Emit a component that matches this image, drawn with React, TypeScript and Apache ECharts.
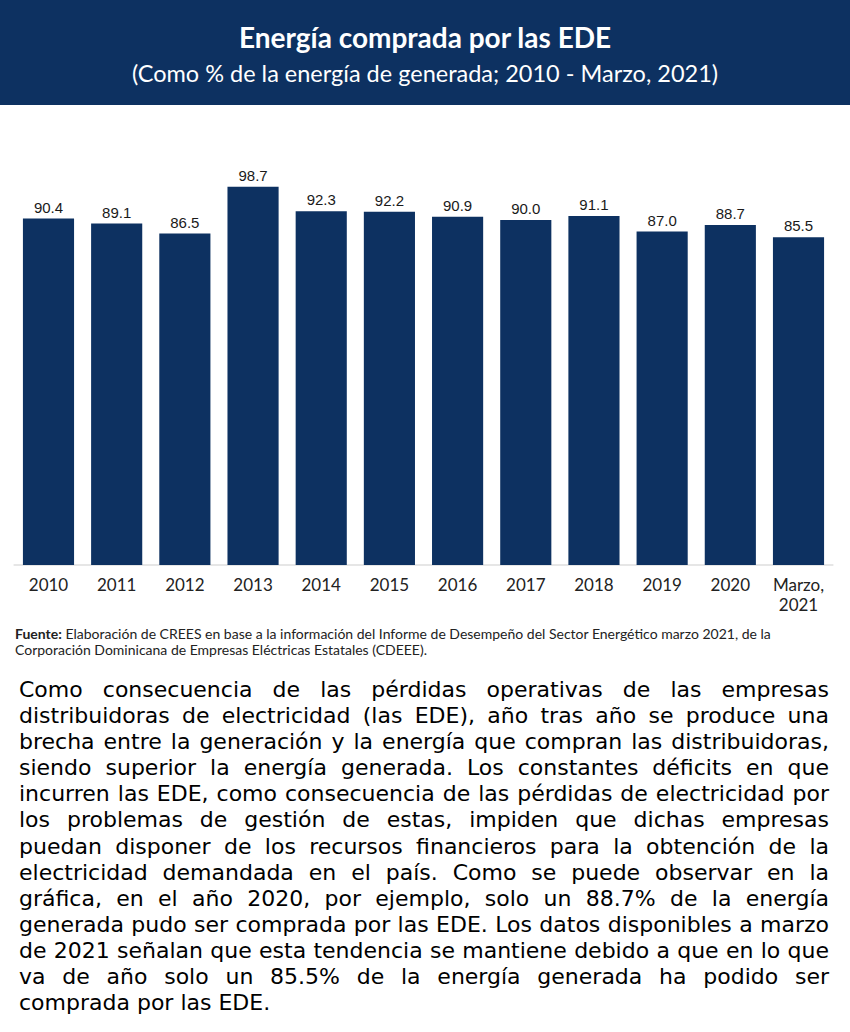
import React, { useEffect, useRef } from "react";
import * as echarts from "echarts";

const categories = ["2010", "2011", "2012", "2013", "2014", "2015", "2016", "2017", "2018", "2019", "2020", "Marzo,\n2021"];
const values = [90.4, 89.1, 86.5, 98.7, 92.3, 92.2, 90.9, 90.0, 91.1, 87.0, 88.7, 85.5];

const titleText = "Energía comprada por las EDE";
const subtitleText = "(Como % de la energía de generada; 2010 - Marzo, 2021)";
const sourceBold = "Fuente:";
const sourceLine1 = " Elaboración de CREES en base a la información del Informe de Desempeño del Sector Energético marzo 2021, de la";
const sourceLine2 = "Corporación Dominicana de Empresas Eléctricas Estatales (CDEEE).";

const paragraphLines = [
  "Como consecuencia de las pérdidas operativas de las empresas",
  "distribuidoras de electricidad (las EDE), año tras año se produce una",
  "brecha entre la generación y la energía que compran las distribuidoras,",
  "siendo superior la energía generada. Los constantes déficits en que",
  "incurren las EDE, como consecuencia de las pérdidas de electricidad por",
  "los problemas de gestión de estas, impiden que dichas empresas",
  "puedan disponer de los recursos financieros para la obtención de la",
  "electricidad demandada en el país. Como se puede observar en la",
  "gráfica, en el año 2020, por ejemplo, solo un 88.7% de la energía",
  "generada pudo ser comprada por las EDE. Los datos disponibles a marzo",
  "de 2021 señalan que esta tendencia se mantiene debido a que en lo que",
  "va de año solo un 85.5% de la energía generada ha podido ser",
  "comprada por las EDE.",
];

const NAVY = "#0d3161";

export default function App() {
  const ref = useRef<HTMLDivElement>(null);

  useEffect(() => {
    document.body.style.margin = "0";
    const chart = echarts.init(ref.current!, null, { renderer: "svg" });
    chart.setOption({
      animation: false,
      backgroundColor: "#ffffff",
      graphic: [
        { type: "rect", left: 0, top: 0, shape: { x: 0, y: 0, width: 850, height: 105 }, style: { fill: NAVY }, silent: true },
        {
          type: "text", x: 425, y: 37,
          style: { text: titleText, fill: "#ffffff", font: "bold 28px Lato", textAlign: "center", textVerticalAlign: "middle", align: "center", verticalAlign: "middle" },
        },
        {
          type: "text", x: 425, y: 73,
          style: { text: subtitleText, fill: "#ffffff", font: "23.5px Lato", textAlign: "center", textVerticalAlign: "middle", align: "center", verticalAlign: "middle" },
        },
        {
          type: "text", x: 15, y: 625,
          style: {
            text: "{b|" + sourceBold + "}{n|" + sourceLine1 + "}\n{n|" + sourceLine2 + "}",
            fill: "#222222",
            font: "14px Lato",
            lineHeight: 16,
            rich: {
              b: { fontFamily: "Lato", fontSize: 14, fontWeight: "bold", fill: "#222222", color: "#222222", lineHeight: 16 },
              n: { fontFamily: "Lato", fontSize: 14, fill: "#222222", color: "#222222", lineHeight: 16 },
            },
          },
        },
      ],
      grid: { left: 14.4, right: 17.4, top: 181.8, bottom: 105, containLabel: false },
      xAxis: {
        type: "category",
        data: categories,
        axisLine: { show: true, lineStyle: { color: "#e6e6e6", width: 2 } },
        axisTick: { show: false },
        axisLabel: { color: "#222222", fontFamily: "Lato", fontSize: 17, margin: 9, lineHeight: 20, interval: 0 },
      },
      yAxis: { type: "value", min: 0, max: 100, show: false, splitLine: { show: false } },
      series: [
        {
          type: "bar",
          data: values,
          barCategoryGap: "25%",
          itemStyle: { color: NAVY },
          label: {
            show: true,
            position: "top",
            distance: 4,
            color: "#1a1a1a",
            fontFamily: "Liberation Sans, Arial, sans-serif",
            fontSize: 15,
            formatter: (p: any) => Number(p.value).toFixed(1),
          },
        },
      ],
    });
    return () => chart.dispose();
  }, []);

  return (
    <div style={{ position: "relative", width: 850, height: 1032, background: "#fff", overflow: "hidden" }}>
      <div ref={ref} style={{ position: "absolute", left: 0, top: 0, width: 850, height: 670 }} />
      <div
        style={{
          position: "absolute",
          left: 19,
          top: 677,
          width: 810,
          fontFamily: "'DejaVu Sans', sans-serif",
          fontSize: 22,
          lineHeight: "26.1px",
          color: "#000",
        }}
      >
        {paragraphLines.map((line, i) => (
          <div
            key={i}
            style={{
              textAlign: "justify",
              textAlignLast: i === paragraphLines.length - 1 ? "left" : "justify",
              whiteSpace: "nowrap",
            }}
          >
            {line}
          </div>
        ))}
      </div>
    </div>
  );
}
